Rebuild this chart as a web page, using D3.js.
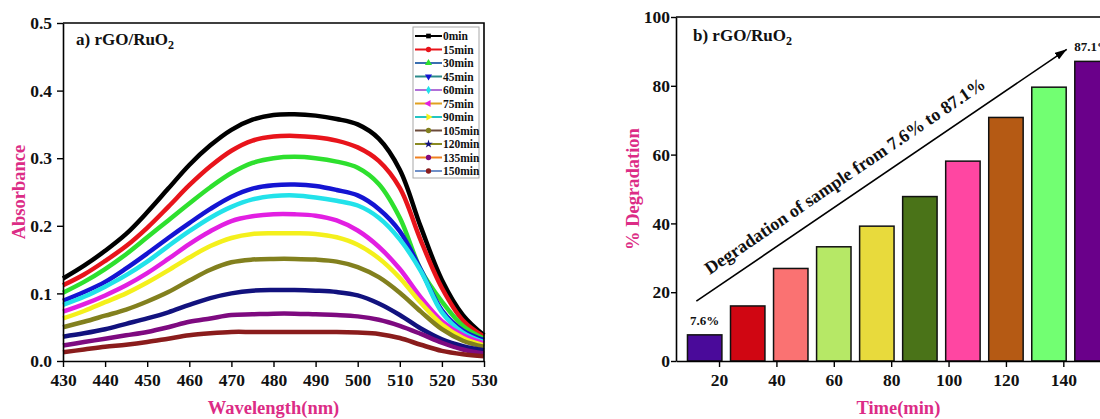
<!DOCTYPE html>
<html>
<head>
<meta charset="utf-8">
<script src="https://cdn.jsdelivr.net/npm/d3@7"></script>
<style>
  body { margin: 0; background: #fff; }
  svg text { font-family: "Liberation Serif", "Times New Roman", serif; font-weight: bold; }
</style>
</head>
<body>
<svg id="chart" width="1100" height="419"></svg>
<script>
// ---- panel a data: UV-vis absorbance of rGO/RuO2 at each time ----
var wavelength = [430,435,440,445,450,455,460,465,470,475,480,485,490,495,500,505,510,515,520,525,530];
var timeLabels = ["0min","15min","30min","45min","60min","75min","90min","105min","120min","135min","150min"];

var abs0   = [.122,.141,.163,.188,.220,.255,.290,.319,.342,.357,.364,.365,.363,.358,.350,.329,.283,.198,.120,.068,.038];
var abs15  = [.112,.128,.148,.170,.197,.228,.260,.288,.311,.326,.332,.333,.331,.326,.316,.296,.256,.178,.108,.060,.036];
var abs30  = [.101,.117,.136,.158,.183,.208,.233,.257,.278,.293,.300,.302,.300,.295,.286,.262,.212,.135,.088,.052,.033];
var abs45  = [.089,.102,.117,.137,.159,.182,.204,.225,.243,.255,.260,.261,.259,.253,.245,.225,.192,.135,.075,.045,.031];
var abs60  = [.083,.095,.110,.127,.147,.170,.192,.212,.228,.239,.244,.245,.242,.237,.230,.212,.180,.133,.072,.042,.028];
var abs75  = [.073,.084,.097,.112,.130,.151,.173,.192,.207,.214,.217,.217,.215,.208,.193,.169,.136,.094,.059,.038,.026];
var abs90  = [.063,.074,.087,.100,.116,.134,.153,.170,.182,.188,.189,.189,.188,.183,.172,.152,.123,.086,.054,.034,.023];
var abs105 = [.050,.058,.067,.076,.088,.102,.119,.135,.146,.150,.151,.151,.150,.147,.139,.124,.101,.073,.047,.030,.021];
var abs120 = [.036,.041,.047,.055,.063,.072,.083,.093,.100,.104,.105,.105,.104,.102,.097,.085,.068,.048,.032,.022,.016];
var abs135 = [.023,.028,.033,.038,.043,.050,.058,.063,.068,.069,.070,.070,.069,.068,.066,.061,.052,.040,.027,.017,.011];
var abs150 = [.013,.017,.021,.024,.028,.033,.038,.041,.043,.043,.043,.043,.043,.043,.042,.040,.034,.024,.015,.010,.007];
var absorbance = [abs0,abs15,abs30,abs45,abs60,abs75,abs90,abs105,abs120,abs135,abs150];

var absTicks = [0,0.1,0.2,0.3,0.4,0.5];
var absMinor = [0.05,0.15,0.25,0.35,0.45];
var wlTicks = [430,440,450,460,470,480,490,500,510,520,530];
var wlMinor = [435,445,455,465,475,485,495,505,515,525];

// ---- panel b data: % degradation ----
var barTimes = [15,30,45,60,75,90,105,120,135,150];
var degradation = [7.6,16.0,26.9,33.2,39.2,47.8,58.1,70.8,79.6,87.1];
var degTicks = [0,20,40,60,80,100];
var degMinor = [10,30,50,70,90];
var timeTicks = [20,40,60,80,100,120,140];
var timeMinor = [10,30,50,70,90,110,130,150];

// styles
var curveColors = ["#000000","#e8141b","#2ee02e","#1414d2","#22e2ea","#e21fe2","#f4f01c","#82801e","#12127e","#7e0a80","#8a1c1c"];
var legLineColors = ["#000000","#e8141b","#3a6fb0","#2a8a8a","#b070d8","#e0a020","#22c4c4","#6b4a3a","#8a8a22","#f08020","#7090c8"];
var barColors = ["#4a0a9a","#d00612","#fa7272","#b6e866","#e8da3c","#4a7318","#ff46a2","#b55a14","#72ff72","#6a008a"];
var titleColor = "#dc2c86";

var svg = d3.select("#chart");
svg.append("rect").attr("width",1100).attr("height",419).attr("fill","#fff");

function styleAxis(g, size){
  g.select(".domain").attr("stroke","#000").attr("stroke-width",1.6);
  g.selectAll(".tick line").attr("stroke","#000").attr("stroke-width",1.4);
  g.selectAll("text").attr("font-size",size).attr("fill","#111");
}

// ================= panel a =================
var xA = d3.scaleLinear().domain([430,530]).range([63,484]);
var yA = d3.scaleLinear().domain([0,0.5]).range([361,23]);
var gA = svg.append("g");

var line = d3.line()
  .x((d,i) => xA(wavelength[i]))
  .y(d => yA(d))
  .curve(d3.curveCatmullRom.alpha(0.5));

gA.selectAll("path.curve")
  .data(absorbance)
  .enter()
  .append("path")
  .attr("class","curve")
  .attr("d", line)
  .attr("fill","none")
  .attr("stroke",(d,i) => curveColors[i])
  .attr("stroke-width",4.5)
  .attr("stroke-linejoin","round");

// frame top/right
gA.append("path")
  .attr("d","M"+xA(430)+","+yA(0.5)+"H"+xA(530)+"V"+yA(0))
  .attr("fill","none").attr("stroke","#000").attr("stroke-width",1.6);

var gAy = gA.append("g").attr("transform","translate("+xA(430)+",0)");
gAy.call(d3.axisLeft(yA).tickValues(absMinor).tickSize(3).tickFormat("").tickSizeOuter(0));
gAy.call(d3.axisLeft(yA).tickValues(absTicks).tickSize(6).tickPadding(5).tickFormat(d3.format(".1f")).tickSizeOuter(0));
styleAxis(gAy,17.5);

var gAx = gA.append("g").attr("transform","translate(0,"+yA(0)+")");
gAx.call(d3.axisBottom(xA).tickValues(wlMinor).tickSize(3).tickFormat("").tickSizeOuter(0));
gAx.call(d3.axisBottom(xA).tickValues(wlTicks).tickSize(6).tickPadding(7).tickFormat(d3.format("d")).tickSizeOuter(0));
styleAxis(gAx,17.5);

gA.append("text").attr("x",(xA(430)+xA(530))/2).attr("y",414)
  .attr("text-anchor","middle").attr("font-size",18.5).attr("fill",titleColor).text("Wavelength(nm)");
gA.append("text").attr("transform","translate(25,"+((yA(0)+yA(0.5))/2)+") rotate(-90)")
  .attr("text-anchor","middle").attr("font-size",18.5).attr("fill",titleColor).text("Absorbance");

var tA = gA.append("text").attr("x",76).attr("y",45).attr("font-size",17).attr("fill","#111");
tA.append("tspan").text("a) rGO/RuO");
tA.append("tspan").attr("dy",4).attr("font-size",12).text("2");

// legend
var symbolTypes = [d3.symbolSquare,d3.symbolCircle,d3.symbolTriangle,d3.symbolTriangle,d3.symbolDiamond,
  d3.symbolTriangle,d3.symbolTriangle,d3.symbolCircle,d3.symbolStar,d3.symbolCircle,d3.symbolCircle];
var symbolRot = [0,0,0,180,0,-90,90,0,0,0,0];
var leg = gA.append("g").attr("transform","translate(413,27)");
leg.append("rect").attr("width",66).attr("height",151).attr("fill","#fff")
  .attr("stroke","#a8a8a8").attr("stroke-width",1);
var rows = leg.selectAll("g.row").data(timeLabels).enter().append("g")
  .attr("transform",(d,i) => "translate(0,"+(9+i*13.5)+")");
rows.append("line").attr("x1",2).attr("x2",29).attr("stroke",(d,i) => legLineColors[i]).attr("stroke-width",2);
rows.append("path")
  .attr("d",(d,i) => d3.symbol().type(symbolTypes[i]).size(22)())
  .attr("transform",(d,i) => "translate(15.5,0) rotate("+symbolRot[i]+")")
  .attr("fill",(d,i) => curveColors[i]);
rows.append("text").attr("x",30).attr("dy","0.35em").attr("font-size",11.5).attr("fill","#111").text(d => d);

// ================= panel b =================
var xB = d3.scaleLinear().domain([5,160]).range([676,1120.7]);
var yB = d3.scaleLinear().domain([0,100]).range([361,17]);
var gB = svg.append("g");
var barW = 12;

gB.selectAll("rect.bar")
  .data(degradation)
  .enter()
  .append("rect")
  .attr("class","bar")
  .attr("x",(d,i) => xB(barTimes[i]-barW/2))
  .attr("width",(d,i) => xB(barTimes[i]+barW/2)-xB(barTimes[i]-barW/2))
  .attr("y",d => yB(d))
  .attr("height",d => yB(0)-yB(d))
  .attr("fill",(d,i) => barColors[i])
  .attr("stroke","#111")
  .attr("stroke-width",1.5);

gB.append("path")
  .attr("d","M"+xB(5)+","+yB(100)+"H"+xB(160)+"V"+yB(0))
  .attr("fill","none").attr("stroke","#000").attr("stroke-width",1.6);

var gBy = gB.append("g").attr("transform","translate("+xB(5)+",0)");
gBy.call(d3.axisLeft(yB).tickValues(degMinor).tickSize(3).tickFormat("").tickSizeOuter(0));
gBy.call(d3.axisLeft(yB).tickValues(degTicks).tickSize(5).tickPadding(1).tickFormat(d3.format("d")).tickSizeOuter(0));
styleAxis(gBy,17.5);

var gBx = gB.append("g").attr("transform","translate(0,"+yB(0)+")");
gBx.call(d3.axisBottom(xB).tickValues(timeMinor).tickSize(3).tickFormat("").tickSizeOuter(0));
gBx.call(d3.axisBottom(xB).tickValues(timeTicks).tickSize(6).tickPadding(7).tickFormat(d3.format("d")).tickSizeOuter(0));
styleAxis(gBx,17.5);

gB.append("text").attr("x",(xB(5)+xB(160))/2).attr("y",414)
  .attr("text-anchor","middle").attr("font-size",18.5).attr("fill",titleColor).text("Time(min)");
gB.append("text").attr("transform","translate(639,"+((yB(0)+yB(100))/2)+") rotate(-90)")
  .attr("text-anchor","middle").attr("font-size",18.5).attr("fill",titleColor).text("% Degradation");

var tB = gB.append("text").attr("x",693).attr("y",41).attr("font-size",17).attr("fill","#111");
tB.append("tspan").text("b) rGO/RuO");
tB.append("tspan").attr("dy",4).attr("font-size",12).text("2");

// first / last value labels
var ends = [0, degradation.length-1];
gB.selectAll("text.val").data(ends).enter().append("text")
  .attr("class","val")
  .attr("x",i => xB(barTimes[i]))
  .attr("y",i => yB(degradation[i]) - 10)
  .attr("text-anchor","middle").attr("font-size",13).attr("fill","#111")
  .text(i => degradation[i].toFixed(1) + "%");

// arrow annotation
svg.append("defs").append("marker")
  .attr("id","head").attr("markerUnits","userSpaceOnUse")
  .attr("markerWidth",12).attr("markerHeight",8).attr("refX",12).attr("refY",4).attr("orient","auto")
  .append("path").attr("d","M0,0L12,4L0,8z").attr("fill","#000");

var a0 = [xB(12.1), yB(17.4)], a1 = [xB(141.2), yB(90.6)];
gB.append("line")
  .attr("x1",a0[0]).attr("y1",a0[1]).attr("x2",a1[0]).attr("y2",a1[1])
  .attr("stroke","#000").attr("stroke-width",1.6).attr("marker-end","url(#head)");

var ang = Math.atan2(a1[1]-a0[1], a1[0]-a0[0]) * 180 / Math.PI;
var f = 0.42;
var mx = a0[0] + (a1[0]-a0[0])*f, my = a0[1] + (a1[1]-a0[1])*f;
gB.append("text")
  .attr("transform","translate("+mx+","+my+") rotate("+ang+") translate(5,-14)")
  .attr("text-anchor","middle").attr("font-size",18).attr("fill","#111")
  .text("Degradation of sample from " + degradation[0] + "% to " + degradation[degradation.length-1] + "%");
</script>
</body>
</html>
